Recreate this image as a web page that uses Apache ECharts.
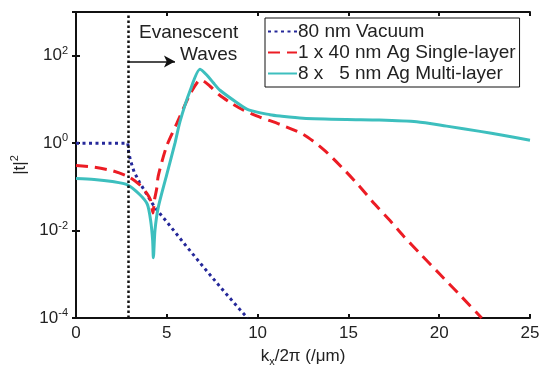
<!DOCTYPE html>
<html>
<head>
<meta charset="UTF-8" />
<script src="https://cdn.jsdelivr.net/npm/echarts@6/dist/echarts.min.js"></script>
<style>
  html, body, #main { margin: 0; padding: 0; width: 547px; height: 372px; background: #fff; }
</style>
</head>
<body>
<div id="main"></div>
<script>
// k_x / 2pi (per um) and |t|^2
const vacuumX = [0, 2.85, 2.9, 3.0, 3.2, 3.5, 3.8, 4.2, 4.5, 5, 6, 7, 8, 9, 9.45];
const vacuumY = [1, 1, 0.63, 0.40, 0.22, 0.126, 0.079, 0.042, 0.028, 0.0158, 0.0048, 0.0015, 0.00048, 0.00016, 0.0001];

const singleX = [0, 1, 2, 2.9, 3.5, 3.9, 4.1, 4.24, 4.32, 4.44, 4.53, 4.99, 5.55, 6.28, 6.73, 6.9, 7.38, 7.9, 8.6, 9.2,
  10.1, 11.23, 12.52, 13.62, 14.63, 15.55, 16.46, 17.29, 18.02, 19, 20.04, 21.2, 22.34];
const singleY = [0.309, 0.282, 0.234, 0.170, 0.112, 0.0708, 0.0501, 0.0251, 0.0501, 0.089, 0.178, 0.851, 2.82, 13.2, 26.3, 27.5, 20.0, 12.6, 7.94, 5.75,
  3.98, 2.69, 1.58, 0.724, 0.282, 0.110, 0.0398, 0.0170, 0.00759, 0.00282, 0.001, 0.000316, 0.0001];

const multiX = [0, 1, 2, 2.85, 3.52, 3.93, 4.11, 4.22, 4.26, 4.35, 4.53, 4.99, 5.45, 5.73, 6.28, 6.83, 7.2, 7.56, 7.93,
  8.85, 9.5, 10.68, 11.23, 12.5, 14.9, 16.7, 18.76, 20.41, 22.25, 23.5, 25];
const multiY = [0.155, 0.148, 0.132, 0.110, 0.0661, 0.0398, 0.0170, 0.00603, 0.0024, 0.0102, 0.0339, 0.186, 1.0, 3.16, 15.8, 49.0, 36.3, 24.0, 16.2,
  8.51, 5.75, 4.47, 4.17, 3.72, 3.47, 3.39, 3.09, 2.45, 1.86, 1.51, 1.17];

const seriesNames = ['80 nm Vacuum', '1 x 40 nm Ag Single-layer', '8 x   5 nm Ag Multi-layer'];
const lightLineK = 2.85;       // evanescent boundary
const arrowY = 74;
const arrowEndK = 5.45;

const zip = (xs, ys) => xs.map((x, i) => [x, ys[i]]);
const font = 'Liberation Sans, Arial, Helvetica, sans-serif';

const chart = echarts.init(document.getElementById('main'), null, { renderer: 'canvas' });

const axisLine = { show: true, lineStyle: { color: '#111', width: 2 } };
const tick = { show: true, inside: true, length: 4, lineStyle: { color: '#111', width: 2 } };

const option = {
  animation: false,
  backgroundColor: '#fff',
  textStyle: { fontFamily: font },
  grid: { left: 76, right: 17, top: 12, bottom: 45 },
  legend: {
    orient: 'vertical',
    left: 265,
    top: 18,
    padding: [4, 4, 4, 2],
    itemWidth: 29,
    itemHeight: 10,
    itemGap: 2,
    backgroundColor: '#fff',
    borderColor: '#111',
    borderWidth: 1,
    borderRadius: 0,
    itemStyle: { opacity: 0, borderWidth: 0 },
    textStyle: { fontSize: 19, color: '#222', lineHeight: 19, fontFamily: font, padding: [0, 0, 0, -4] },
    data: seriesNames
  },
  xAxis: [{
    type: 'value', min: 0, max: 25, interval: 5, position: 'bottom',
    axisLine: axisLine, axisTick: tick, splitLine: { show: false },
    axisLabel: { fontSize: 17, color: '#222', margin: 7 },
    name: 'k{sub|x}/2π (/μm)',
    nameLocation: 'middle', nameGap: 28,
    nameTextStyle: {
      fontSize: 17, color: '#222',
      rich: { sub: { fontSize: 11, verticalAlign: 'bottom', padding: [10, 0, 0, 0], color: '#222' } }
    }
  }, {
    type: 'value', min: 0, max: 25, interval: 5, position: 'top',
    axisLine: axisLine, axisTick: tick, axisLabel: { show: false }, splitLine: { show: false }
  }],
  yAxis: [{
    type: 'log', min: 1e-4, max: 1e3, interval: 2, position: 'left',
    axisLine: axisLine, axisTick: tick, splitLine: { show: false }, minorTick: { show: false },
    axisLabel: {
      fontSize: 17, color: '#222', margin: 8,
      formatter: function (v) {
        const e = Math.round(Math.log10(v));
        if (e % 2 !== 0 || e > 2) return '';
        return '10{sup|' + e + '}';
      },
      rich: { sup: { fontSize: 11, verticalAlign: 'top', padding: [0, 0, 10, 0], color: '#222' } }
    },
    name: '|t|{sup|2}',
    nameLocation: 'middle', nameGap: 42, nameRotate: 90,
    nameTextStyle: {
      fontSize: 17, color: '#222',
      rich: { sup: { fontSize: 11, verticalAlign: 'top', padding: [0, 0, 10, 0], color: '#222' } }
    }
  }, {
    type: 'log', min: 1e-4, max: 1e3, interval: 2, position: 'right',
    axisLine: axisLine, axisTick: tick, axisLabel: { show: false }, splitLine: { show: false }
  }],
  graphic: [
    { type: 'text', left: 139, top: 23, style: { text: 'Evanescent', font: '19px ' + font, fill: '#222' } },
    { type: 'text', left: 180, top: 45, style: { text: 'Waves', font: '19px ' + font, fill: '#222' } }
  ],
  series: [
    {
      name: seriesNames[0], type: 'line', data: zip(vacuumX, vacuumY),
      showSymbol: false, symbol: 'none',
      lineStyle: { color: '#25289a', width: 3, type: [3, 3.5] },
      itemStyle: { color: '#25289a' },
      markLine: {
        silent: true, symbol: 'none', label: { show: false },
        data: [
          { xAxis: lightLineK, lineStyle: { color: '#111', width: 2.5, type: [2.5, 2.5] } },
          [
            { coord: [lightLineK, arrowY], symbol: 'none', lineStyle: { color: '#111', width: 1.5, type: 'solid' } },
            { coord: [arrowEndK, arrowY], symbol: 'arrow', symbolSize: [9, 11] }
          ]
        ]
      }
    },
    {
      name: seriesNames[1], type: 'line', data: zip(singleX, singleY),
      showSymbol: false, symbol: 'none', smooth: 0.25,
      lineStyle: { color: '#ec1c24', width: 3, type: [12, 7] },
      itemStyle: { color: '#ec1c24' }
    },
    {
      name: seriesNames[2], type: 'line', data: zip(multiX, multiY),
      showSymbol: false, symbol: 'none', smooth: 0.25,
      lineStyle: { color: '#3dbfbe', width: 3 },
      itemStyle: { color: '#3dbfbe' }
    }
  ]
};

chart.setOption(option);
</script>
</body>
</html>
